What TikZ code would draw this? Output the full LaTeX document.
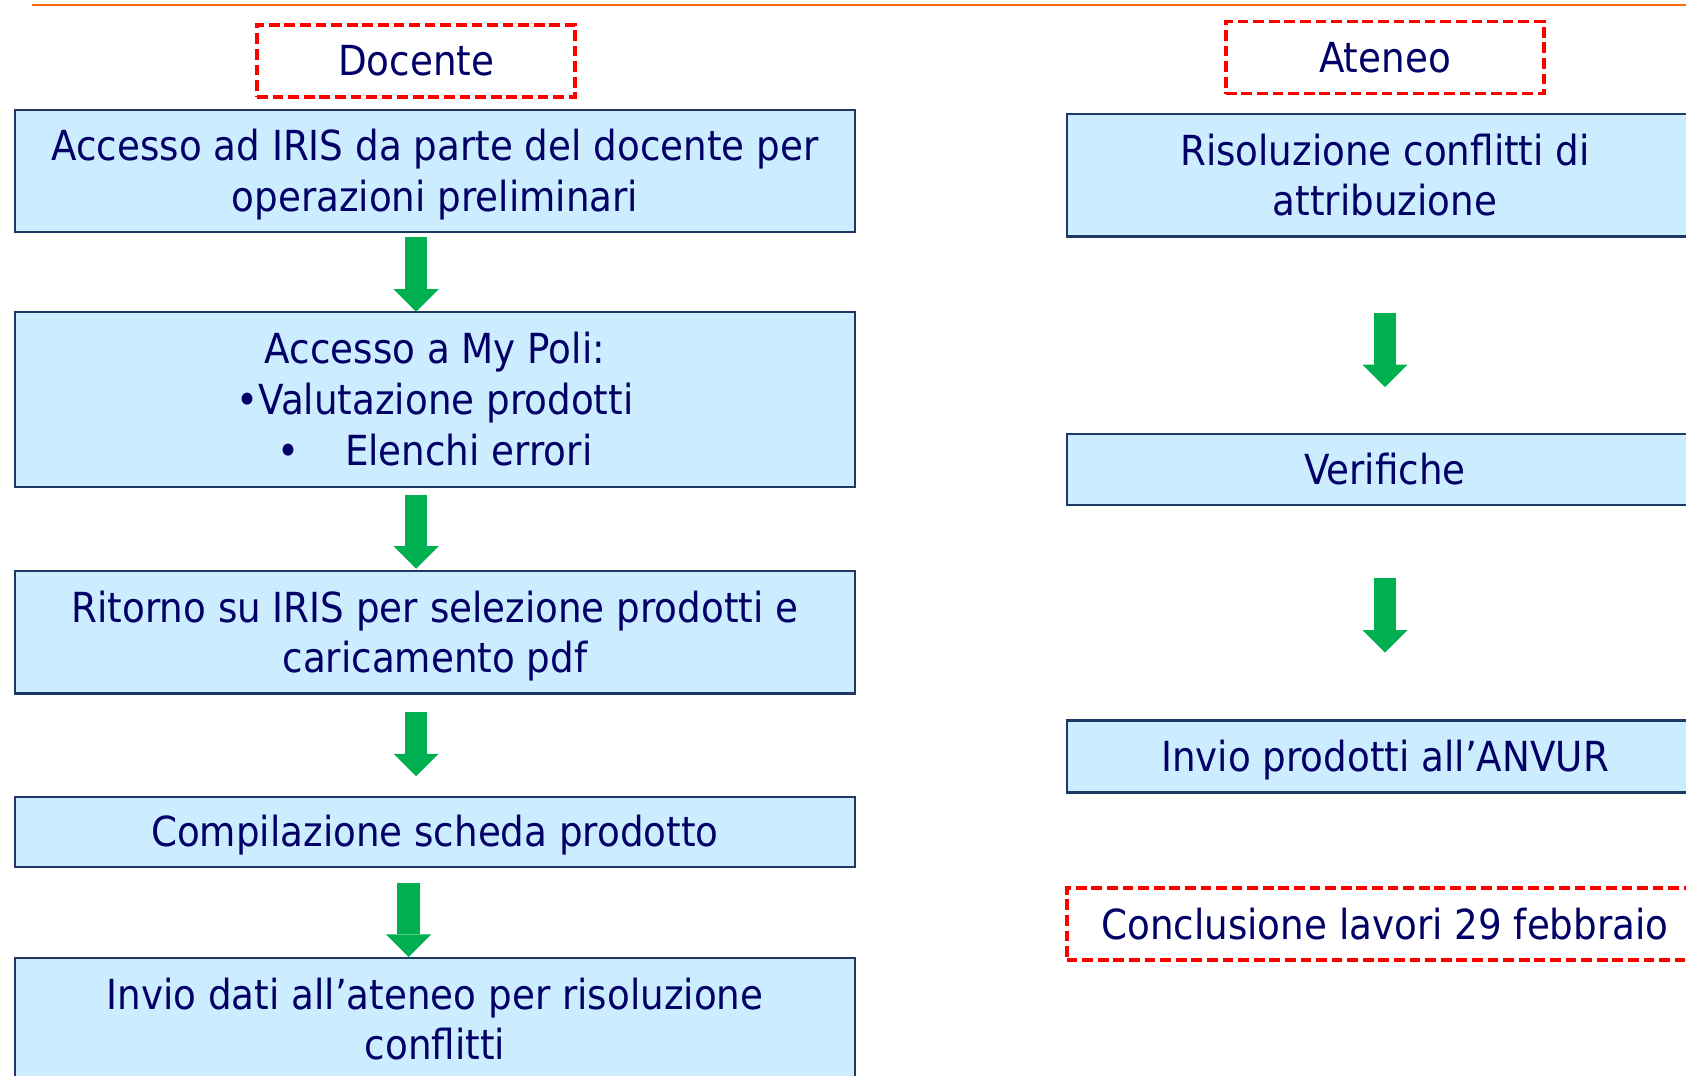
\documentclass[tikz,border=0pt]{standalone}
\usepackage{fontspec}
\setmainfont{DejaVu Sans}[FakeStretch=0.90]
\usetikzlibrary{arrows.meta}
\definecolor{txt}{HTML}{000066}
\definecolor{boxfill}{HTML}{CCECFF}
\definecolor{boxline}{HTML}{1F3864}
\definecolor{arrowgreen}{HTML}{00B050}
\definecolor{orng}{HTML}{FF6A13}
\newcommand\topstrut{\rule{0pt}{38pt}}
\newcommand\botstrut{\rule[-10pt]{0pt}{10pt}}
\begin{document}
\begin{tikzpicture}[x=1pt,y=-1pt,
  txtfont/.style={font=\fontsize{38.5}{47}\selectfont},
  stepbox/.style={draw=boxline, line width=2pt, fill=boxfill, inner sep=0pt,
    text=txt, align=center, txtfont},
  tagbox/.style={draw=red, line width=3.5pt, dash pattern=on 10pt off 4.5pt,
    inner sep=0pt, text=txt, align=center, txtfont},
  flow/.style={draw=arrowgreen, line width=21pt,
    -{Triangle[width=42pt,length=21pt,line width=0pt]}}]
\useasboundingbox (0,0) rectangle (1568,1000);
\clip (0,0) rectangle (1568,1000);
\fill[white] (0,0) rectangle (1568,1000);
% top rule
\coordinate (ruleL) at (30,5);
\coordinate (ruleR) at (1568,5);
\draw[orng, line width=2pt] (ruleL) -- (ruleR);
% left column
\node[tagbox, minimum width=296pt, minimum height=67pt] (doc) at (387,56.5)
  {\topstrut Docente\botstrut};
\node[stepbox, minimum width=781pt, minimum height=114pt] (b1) at (404.5,159)
  {\topstrut Accesso ad IRIS da parte del docente per\\operazioni preliminari\botstrut};
\node[stepbox, minimum width=781pt, minimum height=163pt] (b2) at (404.5,371.5)
  {\topstrut Accesso a My Poli:\\•Valutazione prodotti\\•\hspace{1.1em}Elenchi errori\botstrut};
\node[stepbox, minimum width=781pt, minimum height=114pt] (b3) at (404.5,588)
  {\topstrut Ritorno su IRIS per selezione prodotti e\\caricamento pdf\botstrut};
\node[stepbox, minimum width=781pt, minimum height=65pt] (b4) at (404.5,773.5)
  {\topstrut Compilazione scheda prodotto\botstrut};
\node[stepbox, minimum width=781pt, minimum height=114pt] (b5) at (404.5,948)
  {\topstrut Invio dati all’ateneo per risoluzione\\conflitti\botstrut};
% right column
\node[tagbox, minimum width=296pt, minimum height=67pt] (ate) at (1288,53.5)
  {\topstrut Ateneo\botstrut};
\node[stepbox, minimum width=592pt, minimum height=114pt] (r1) at (1288,163)
  {\topstrut Risoluzione conflitti di\\attribuzione\botstrut};
\node[stepbox, minimum width=592pt, minimum height=66pt] (r2) at (1288,437)
  {\topstrut Verifiche\botstrut};
\node[stepbox, minimum width=592pt, minimum height=67pt] (r3) at (1288,703.5)
  {\topstrut Invio prodotti all’ANVUR\botstrut};
\node[tagbox, minimum width=592pt, minimum height=67pt] (end) at (1288,859.5)
  {\topstrut Conclusione lavori 29 febbraio\botstrut};
% arrows
\coordinate (a1s) at (387,220); \coordinate (a1e) at (387,290);
\coordinate (a2s) at (387,460); \coordinate (a2e) at (387,529);
\coordinate (a3s) at (387,662); \coordinate (a3e) at (387,722);
\coordinate (a4s) at (380,821); \coordinate (a4e) at (380,890);
\coordinate (r1s) at (1288,291); \coordinate (r1e) at (1288,360);
\coordinate (r2s) at (1288,538); \coordinate (r2e) at (1288,607);
\draw[flow] (a1s) -- (a1e);
\draw[flow] (a2s) -- (a2e);
\draw[flow] (a3s) -- (a3e);
\draw[flow] (a4s) -- (a4e);
\draw[flow] (r1s) -- (r1e);
\draw[flow] (r2s) -- (r2e);
\end{tikzpicture}
\end{document}
